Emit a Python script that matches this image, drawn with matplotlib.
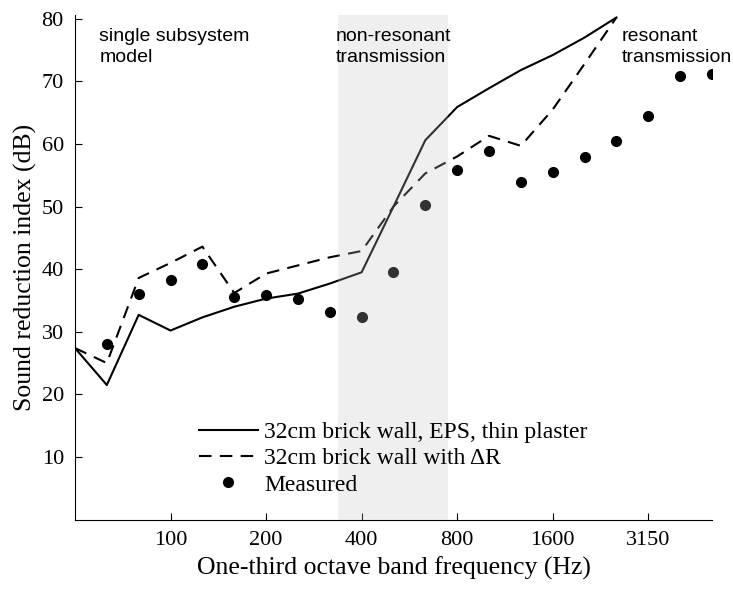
import numpy as np
from matplotlib import pyplot as plt

# one-third octave bands, 50 Hz .. 5000 Hz (index 0..20)
bands = [50, 63, 80, 100, 125, 160, 200, 250, 315, 400, 500, 630, 800,
         1000, 1250, 1600, 2000, 2500, 3150, 4000, 5000]
tick_labels = ['100', '200', '400', '800', '1600', '3150']
tick_bands = [100, 200, 400, 800, 1600, 3150]

# model: 50 Hz .. 2500 Hz
r_model = [27.4, 21.5, 32.7, 30.2, 32.3, 34.0, 35.3, 36.1, 37.7, 39.5,
           50.0, 60.6, 65.9, 68.9, 71.8, 74.2, 77.0, 80.2]
r_delta = [27.4, 25.0, 38.6, 41.0, 43.6, 36.2, 39.3, 40.6, 41.9, 42.9,
           50.0, 55.3, 58.0, 61.3, 59.7, 65.5, 72.8, 80.2]
# measured: 63 Hz .. 5000 Hz
r_meas = [28.0, 36.0, 38.2, 40.8, 35.5, 35.8, 35.2, 33.1, 32.4, 39.6,
          50.3, 55.8, 58.8, 53.9, 55.6, 57.9, 60.5, 64.5, 70.8, 71.1]

# shaded region in band-index units
shade_from, shade_to = 8.25, 11.72


def main():
    plt.rcParams['font.family'] = 'Liberation Serif'
    plt.rcParams['font.size'] = 16

    fig = plt.figure(figsize=(7.33, 5.9), dpi=100)
    ax = fig.add_axes([0.1023, 0.1193, 0.8690, 0.8553])

    idx = np.arange(len(bands))
    ax.plot(idx[:len(r_model)], r_model, color='black', lw=1.5,
            label='32cm brick wall, EPS, thin plaster')
    ax.plot(idx[:len(r_delta)], r_delta, color='black', lw=1.5,
            dashes=(6, 4), label='32cm brick wall with \u0394R')
    ax.plot(idx[1:], r_meas, 'o', color='black', ms=7, label='Measured')

    ax.axvspan(shade_from, shade_to, color=(0.77, 0.77, 0.77), alpha=0.26,
               lw=0, zorder=5)

    ax.set_xlim(0, len(bands) - 1)
    ax.set_ylim(0, 80.6)
    ax.set_xticks([bands.index(b) for b in tick_bands])
    ax.set_xticklabels(tick_labels)
    ax.set_yticks(np.arange(10, 81, 10))
    ax.tick_params(direction='in', length=5, width=0.8, pad=8)
    for s in ['top', 'right']:
        ax.spines[s].set_visible(False)

    ax.set_xlabel('One-third octave band frequency (Hz)', fontsize=18.5,
                  labelpad=5)
    ax.set_ylabel('Sound reduction index (dB)', fontsize=18.5, labelpad=3)

    sans = 'Liberation Sans'
    ax.text(0.038, 0.975, 'single subsystem\nmodel', transform=ax.transAxes,
            family=sans, fontsize=14, va='top', linespacing=1.3)
    ax.text(0.41, 0.975, 'non-resonant\ntransmission', transform=ax.transAxes,
            family=sans, fontsize=14, va='top', linespacing=1.3, zorder=6)
    ax.text(0.858, 0.975, 'resonant\ntransmission', transform=ax.transAxes,
            family=sans, fontsize=14, va='top', linespacing=1.3)

    ax.legend(loc='lower left', bbox_to_anchor=(0.165, 0.01), frameon=False,
              handlelength=2.5, handletextpad=0.25, labelspacing=0.2,
              borderaxespad=0.4, fontsize=17)

    fig.savefig('out.png', dpi=100)


if __name__ == '__main__':
    main()
